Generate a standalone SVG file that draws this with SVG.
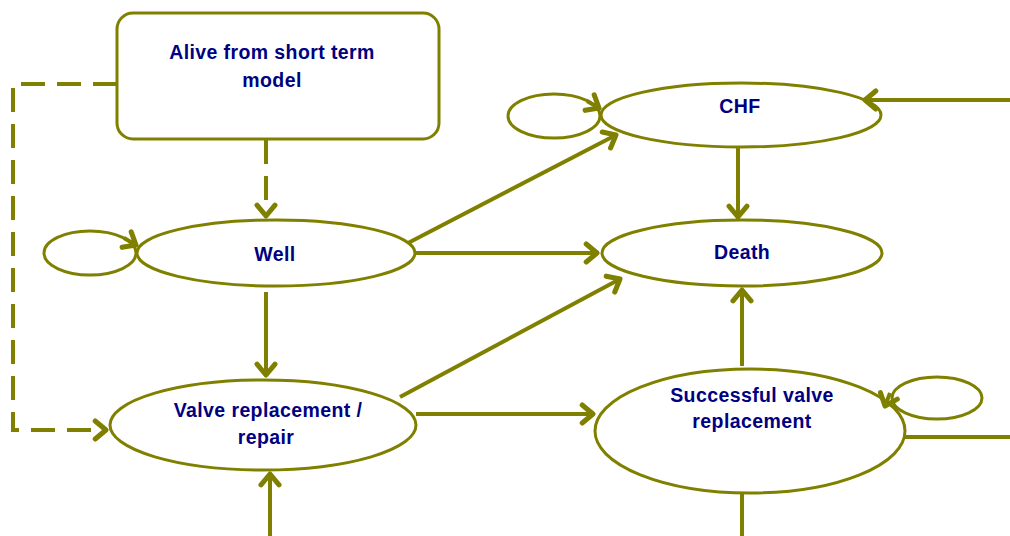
<svg xmlns="http://www.w3.org/2000/svg" width="1010" height="536" viewBox="0 0 1010 536">
<style>
.n{fill:#fff;stroke:#808000;stroke-width:3}
.o{fill:none;stroke:#808000;stroke-width:3}
.l{fill:none;stroke:#808000;stroke-width:4}
.d{fill:none;stroke:#808000;stroke-width:4;stroke-dasharray:24 12}
.t{font-family:"Liberation Sans",Arial,sans-serif;font-weight:bold;font-size:19.5px;letter-spacing:0.4px;fill:#000080;text-anchor:middle}
</style>
<defs>
<marker id="a" markerUnits="userSpaceOnUse" markerWidth="24" markerHeight="24" refX="14" refY="10" orient="auto" viewBox="0 0 20 20">
<polyline points="5,2.5 14,10 5,17.5" fill="none" stroke="#808000" stroke-width="4.2" stroke-linecap="round" stroke-linejoin="round"/>
</marker>
</defs>
<rect width="1010" height="536" fill="#fff"/>
<g id="alive">
<rect class="n" x="117" y="13" width="322" height="126" rx="16"/>
<text class="t" x="272" y="59">Alive from short term</text>
<text class="t" x="272" y="87">model</text>
</g>
<g id="well">
<ellipse class="o" cx="90" cy="253" rx="46" ry="22"/>
<ellipse class="n" cx="276" cy="253" rx="139" ry="33"/>
<text class="t" x="275" y="261">Well</text>
</g>
<g id="chf">
<ellipse class="o" cx="554" cy="116" rx="46" ry="22"/>
<ellipse class="n" cx="741" cy="115" rx="140" ry="32"/>
<text class="t" x="740" y="113">CHF</text>
</g>
<g id="death">
<ellipse class="n" cx="742" cy="253" rx="140" ry="33"/>
<text class="t" x="742" y="259">Death</text>
</g>
<g id="valve">
<ellipse class="n" cx="263" cy="425" rx="153" ry="45"/>
<text class="t" x="268" y="417">Valve replacement /</text>
<text class="t" x="266" y="444">repair</text>
</g>
<g id="successful">
<ellipse class="n" cx="750" cy="431" rx="155" ry="62"/>
<ellipse class="o" cx="937" cy="398" rx="45" ry="21"/>
<text class="t" x="752" y="402">Successful valve</text>
<text class="t" x="752" y="428">replacement</text>
</g>
<g id="connectors">
<polyline class="d" points="117,84 13,84 13,430 106,430" marker-end="url(#a)"/>
<line class="d" x1="266" y1="140" x2="266" y2="216" marker-end="url(#a)"/>
<path class="l" d="M124,238 L136,245" marker-end="url(#a)"/>
<path class="l" d="M587,101 L599,108" marker-end="url(#a)"/>
<path class="l" d="M890,393 L885,406" marker-end="url(#a)"/>
<line class="l" x1="1010" y1="100" x2="865" y2="100" marker-end="url(#a)"/>
<line class="l" x1="1010" y1="437" x2="905" y2="437"/>
<line class="l" x1="408" y1="243" x2="616" y2="135" marker-end="url(#a)"/>
<line class="l" x1="416" y1="253" x2="597" y2="253" marker-end="url(#a)"/>
<line class="l" x1="738" y1="148" x2="738" y2="217" marker-end="url(#a)"/>
<line class="l" x1="266" y1="292" x2="266" y2="375" marker-end="url(#a)"/>
<line class="l" x1="400" y1="397" x2="620" y2="279" marker-end="url(#a)"/>
<line class="l" x1="416" y1="414" x2="593" y2="414" marker-end="url(#a)"/>
<line class="l" x1="742" y1="366" x2="742" y2="290" marker-end="url(#a)"/>
<line class="l" x1="270" y1="536" x2="270" y2="474" marker-end="url(#a)"/>
<line class="l" x1="742" y1="494" x2="742" y2="536"/>
</g>
</svg>
